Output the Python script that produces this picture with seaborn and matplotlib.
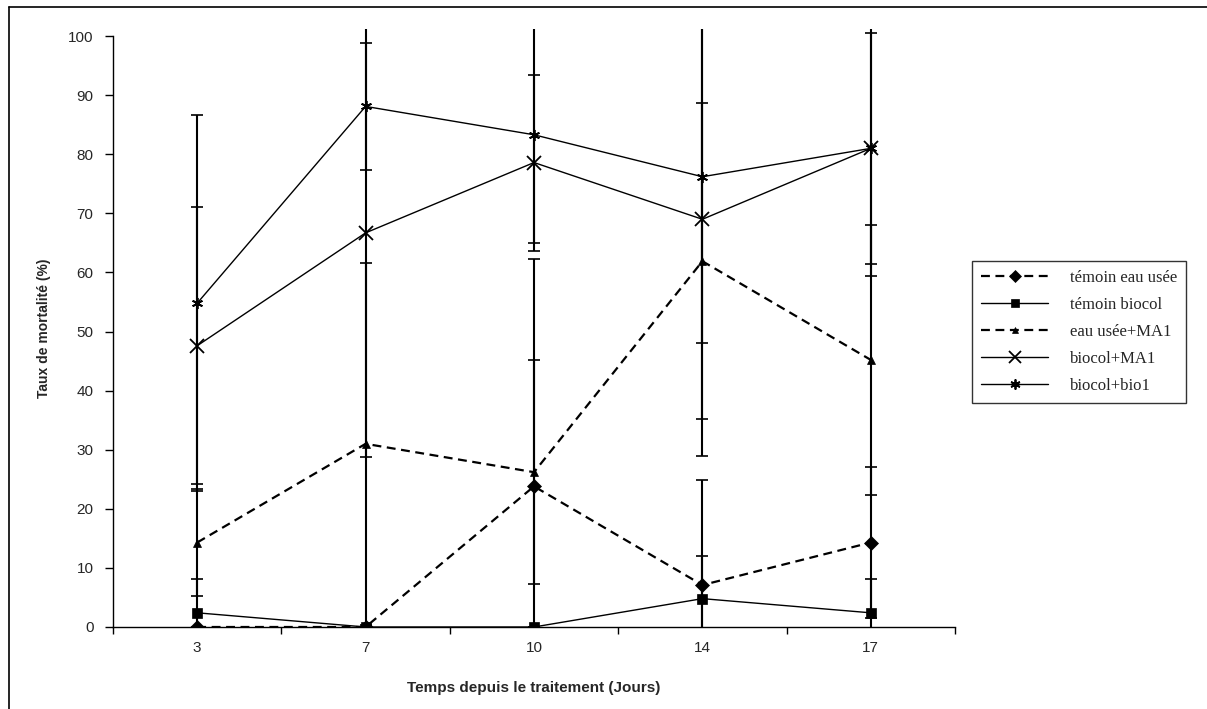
import matplotlib
matplotlib.use("Agg")
import matplotlib.pyplot as plt
import seaborn as sns
import pandas as pd
import numpy as np
from matplotlib.lines import Line2D

days = ["3", "7", "10", "14", "17"]
series_names = ["témoin eau usée", "témoin biocol", "eau usée+MA1", "biocol+MA1", "biocol+bio1"]

temoin_eau = [0.0, 0.0, 23.8, 7.1, 14.3]
temoin_biocol = [2.4, 0.0, 0.0, 4.8, 2.4]
eau_ma1 = [14.3, 31.0, 26.2, 61.9, 45.2]
biocol_ma1 = [47.6, 66.7, 78.6, 69.0, 81.0]
biocol_bio1 = [54.8, 88.1, 83.3, 76.2, 81.0]

err_temoin_eau = [0.0, 0.0, 38.5, 17.7, 12.7]
err_temoin_biocol = [5.7, 0.0, 0.0, 7.3, 5.7]
err_eau_ma1 = [9.0, 30.6, 19.0, 26.7, 22.9]
err_biocol_ma1 = [23.4, 37.9, 14.9, 40.0, 21.6]
err_biocol_bio1 = [31.8, 10.8, 18.4, 28.2, 19.6]

values = [temoin_eau, temoin_biocol, eau_ma1, biocol_ma1, biocol_bio1]
errors = [err_temoin_eau, err_temoin_biocol, err_eau_ma1, err_biocol_ma1, err_biocol_bio1]

rows = []
for name, vals, errs in zip(series_names, values, errors):
    for i, (d, v, e) in enumerate(zip(days, vals, errs)):
        rows.append({"pos": i, "jour": d, "serie": name, "val": v, "err": e})
df = pd.DataFrame(rows)

sns.set_style("white")
plt.rcParams["font.family"] = ["Liberation Sans", "DejaVu Sans"]

fig = plt.figure(figsize=(12.07, 7.09), dpi=100)
ax = fig.add_axes([113 / 1207, 82 / 709, (955 - 113) / 1207, (627 - 29) / 709])

markers = {"témoin eau usée": "D", "témoin biocol": "s", "eau usée+MA1": "^",
           "biocol+MA1": "x", "biocol+bio1": (6, 2, 0)}
dashes = {"témoin eau usée": (4, 2.5), "témoin biocol": "", "eau usée+MA1": (4, 2.5),
          "biocol+MA1": "", "biocol+bio1": ""}
msize = {"témoin eau usée": 7, "témoin biocol": 7, "eau usée+MA1": 5.5,
         "biocol+MA1": 10, "biocol+bio1": 8}
lw = {"témoin eau usée": 1.6, "témoin biocol": 1.0, "eau usée+MA1": 1.6,
      "biocol+MA1": 1.0, "biocol+bio1": 1.0}

# error bars
for name in series_names:
    sub = df[df["serie"] == name]
    ax.errorbar(sub["pos"], sub["val"], yerr=sub["err"], fmt="none", ecolor="black",
                elinewidth=1.5, capsize=4.6, capthick=1.2, zorder=2)

for name in series_names:
    sub = df[df["serie"] == name]
    sns.lineplot(data=sub, x="pos", y="val", ax=ax, color="black",
                 marker=markers[name], markersize=msize[name],
                 markeredgecolor="black", markerfacecolor="black",
                 markeredgewidth=1.3 if name in ("biocol+MA1", "biocol+bio1") else 0.5,
                 linewidth=lw[name], legend=False, zorder=3,
                 dashes=False, errorbar=None)
    line = ax.lines[-1]
    if dashes[name]:
        line.set_dashes(dashes[name])

ax.set_xlim(-0.5, 4.5)
ax.set_ylim(0, 101.2)
ax.set_yticks(np.arange(0, 101, 10))
ax.set_yticklabels([str(v) for v in range(0, 101, 10)], fontsize=11)
ax.set_xticks(range(len(days)))
ax.set_xticklabels(days, fontsize=11)
ax.set_xticks(np.arange(-0.5, 4.6, 1), minor=True)
ax.tick_params(axis="x", which="major", length=0, pad=10)
ax.tick_params(axis="x", which="minor", length=5, width=1, direction="out", color="black")
ax.tick_params(axis="y", which="major", length=6, width=1, direction="out", color="black", pad=8)
ax.tick_params(left=True, bottom=True, which="both")

for s in ["top", "right"]:
    ax.spines[s].set_visible(False)
for s in ["left", "bottom"]:
    ax.spines[s].set_color("black")
    ax.spines[s].set_linewidth(1.0)
ax.spines["left"].set_bounds(0, 100)

ax.set_xlabel("Temps depuis le traitement (Jours)", fontsize=11, fontweight="bold", labelpad=19)
ax.set_ylabel("Taux de mortalité (%)", fontsize=10, fontweight="bold", labelpad=12)

handles = []
for name in series_names:
    h = Line2D([0], [0], color="black", marker=markers[name],
               markersize=msize[name] * 0.9, markerfacecolor="black",
               markeredgecolor="black",
               markeredgewidth=1.3 if name in ("biocol+MA1", "biocol+bio1") else 0.5,
               linewidth=lw[name])
    if dashes[name]:
        h.set_dashes(dashes[name])
    handles.append(h)
leg = fig.legend(handles, series_names, loc="upper left",
                 bbox_to_anchor=(972 / 1207, 1 - 261 / 709), borderaxespad=0,
                 prop={"family": ["Liberation Serif", "DejaVu Serif"], "size": 12},
                 frameon=True, fancybox=False, edgecolor="black",
                 handlelength=4.0, labelspacing=0.65, borderpad=0.55, handletextpad=1.3)
leg.get_frame().set_linewidth(1.0)

# outer chart border (top and left)
fig.add_artist(Line2D([9 / 1207, 9 / 1207], [0, 1 - 7 / 709], color="black", lw=1.2,
                      transform=fig.transFigure))
fig.add_artist(Line2D([9 / 1207, 1], [1 - 7 / 709, 1 - 7 / 709], color="black", lw=1.2,
                      transform=fig.transFigure))

fig.savefig("out.png", dpi=100, facecolor="white")
